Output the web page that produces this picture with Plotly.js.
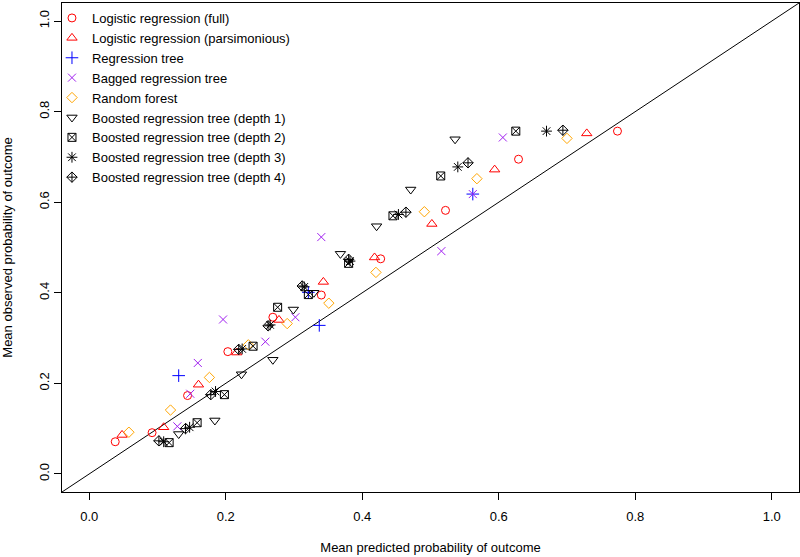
<!DOCTYPE html>
<html>
<head>
<meta charset="utf-8">
<script src="https://cdn.plot.ly/plotly-3.0.1.min.js"></script>
<style>html,body{margin:0;padding:0;background:#fff;}#chart{width:800px;height:557px;}</style>
</head>
<body>
<div id="chart"></div>
<script>
// Series names
const seriesNames = [
  "Logistic regression (full)",
  "Logistic regression (parsimonious)",
  "Regression tree",
  "Bagged regression tree",
  "Random forest",
  "Boosted regression tree (depth 1)",
  "Boosted regression tree (depth 2)",
  "Boosted regression tree (depth 3)",
  "Boosted regression tree (depth 4)"
];

// Mean predicted (x) and observed (y) probabilities per risk group
const xLogFull = [0.038, 0.092, 0.144, 0.203, 0.269, 0.340, 0.427, 0.522, 0.629, 0.774];
const yLogFull = [0.071, 0.091, 0.173, 0.270, 0.346, 0.395, 0.475, 0.582, 0.695, 0.757];

const xLogPars = [0.048, 0.109, 0.160, 0.216, 0.278, 0.343, 0.418, 0.502, 0.594, 0.729];
const yLogPars = [0.086, 0.103, 0.197, 0.268, 0.340, 0.424, 0.478, 0.552, 0.672, 0.752];

const xRegTree = [0.131, 0.321, 0.337, 0.562];
const yRegTree = [0.217, 0.401, 0.328, 0.618];

const xBagged = [0.129, 0.148, 0.159, 0.196, 0.258, 0.302, 0.340, 0.516, 0.562, 0.606];
const yBagged = [0.105, 0.177, 0.245, 0.341, 0.292, 0.346, 0.523, 0.492, 0.618, 0.743];

const xForest = [0.058, 0.119, 0.176, 0.233, 0.290, 0.351, 0.420, 0.491, 0.568, 0.700];
const yForest = [0.092, 0.141, 0.213, 0.285, 0.332, 0.377, 0.445, 0.579, 0.652, 0.741];

const xBoost1 = [0.131, 0.184, 0.223, 0.269, 0.299, 0.329, 0.368, 0.421, 0.471, 0.536];
const yBoost1 = [0.088, 0.118, 0.220, 0.252, 0.363, 0.400, 0.486, 0.547, 0.628, 0.739];

const xBoost2 = [0.117, 0.158, 0.198, 0.240, 0.276, 0.321, 0.380, 0.445, 0.515, 0.625];
const yBoost2 = [0.069, 0.113, 0.175, 0.282, 0.368, 0.396, 0.465, 0.570, 0.658, 0.757];

const xBoost3 = [0.109, 0.147, 0.185, 0.224, 0.265, 0.315, 0.382, 0.453, 0.540, 0.670];
const yBoost3 = [0.071, 0.103, 0.182, 0.276, 0.329, 0.413, 0.470, 0.573, 0.678, 0.757];

const xBoost4 = [0.102, 0.141, 0.178, 0.219, 0.262, 0.312, 0.380, 0.464, 0.555, 0.694];
const yBoost4 = [0.073, 0.100, 0.175, 0.275, 0.327, 0.415, 0.474, 0.578, 0.687, 0.759];

const tickVals = [0.0, 0.2, 0.4, 0.6, 0.8, 1.0];
const tickText = ["0.0", "0.2", "0.4", "0.6", "0.8", "1.0"];

const xs = [xLogFull, xLogPars, xRegTree, xBagged, xForest, xBoost1, xBoost2, xBoost3, xBoost4];
const ys = [yLogFull, yLogPars, yRegTree, yBagged, yForest, yBoost1, yBoost2, yBoost3, yBoost4];
const colors = ["#FF0000", "#FF0000", "#0000FF", "#A020F0", "#FFA500", "#000000", "#000000", "#000000", "#000000"];
const symbols = ["circle-open", "triangle-up-open", "cross-thin-open", "x-thin-open", "diamond-open",
                 "triangle-down-open", "square-x-open", "asterisk-open", "diamond-cross-open"];
const sizes = [8, 9, 9, 8, 8, 9, 8, 9, 8];

const axisRange = [-0.04, 1.04];

const traces = [{
  x: axisRange, y: axisRange, mode: "lines", showlegend: false, hoverinfo: "skip",
  line: {color: "#000000", width: 1}
}];
seriesNames.forEach((name, i) => {
  traces.push({
    x: xs[i], y: ys[i], name: name, mode: "markers", type: "scatter",
    marker: {symbol: symbols[i], size: sizes[i], color: colors[i], line: {color: colors[i], width: 1}}
  });
});

const fontFam = "Liberation Sans, Arial, sans-serif";
const axisCommon = {
  range: axisRange, tickvals: tickVals, ticktext: tickText,
  showgrid: false, zeroline: false, showline: true, mirror: true,
  linecolor: "#000000", linewidth: 1, ticks: "outside", ticklen: 7,
  tickcolor: "#000000", tickwidth: 1,
  tickfont: {family: fontFam, size: 13, color: "#000000"}
};

const layout = {
  width: 800, height: 557,
  margin: {l: 62, r: 1, t: 3, b: 65},
  paper_bgcolor: "#ffffff", plot_bgcolor: "#ffffff",
  font: {family: fontFam, size: 13, color: "#000000"},
  xaxis: Object.assign({}, axisCommon, {
    ticklabelstandoff: 5,
    title: {text: "Mean predicted probability of outcome", font: {family: fontFam, size: 13}, standoff: 20}
  }),
  yaxis: Object.assign({}, axisCommon, {
    tickangle: -90,
    title: {text: "Mean observed probability of outcome", font: {family: fontFam, size: 13}, standoff: 22}
  }),
  showlegend: true,
  legend: {
    x: -0.0136, y: 1.0, xanchor: "left", yanchor: "top",
    bgcolor: "rgba(0,0,0,0)", borderwidth: 0,
    font: {family: fontFam, size: 13, color: "#000000"},
    itemwidth: 30
  }
};

Plotly.newPlot("chart", traces, layout, {staticPlot: true, displayModeBar: false});
</script>
</body>
</html>
